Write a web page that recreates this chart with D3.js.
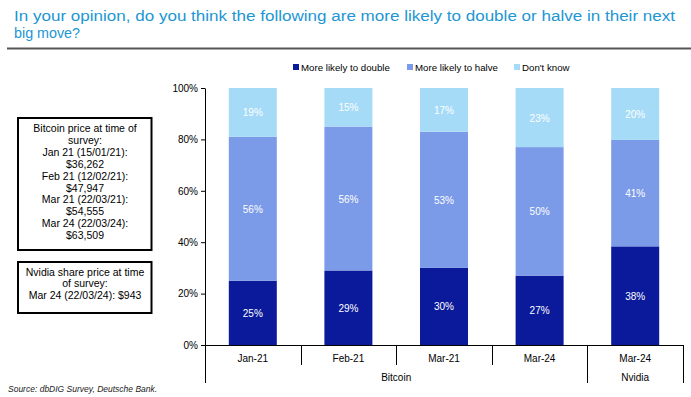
<!DOCTYPE html>
<html><head><meta charset="utf-8">
<script src="https://cdn.jsdelivr.net/npm/d3@7"></script>
<style>
body{margin:0;background:#fff;}
svg{display:block;}
text{font-family:"Liberation Sans",Arial,sans-serif;}
</style></head>
<body><svg id="c" width="691" height="397"></svg>
<script>
const categories = ["Jan-21","Feb-21","Mar-21","Mar-24","Mar-24 "];
const groupLabels = ["Bitcoin","Bitcoin","Bitcoin","Bitcoin","Nvidia"];
const seriesNames = ["More likely to double","More likely to halve","Don't know"];
const doubleVals = [25,29,30,27,38];
const halveVals = [56,56,53,50,41];
const dontKnowVals = [19,15,17,23,20];
const yTicks = [0,0.2,0.4,0.6,0.8,1.0];
const colors = ["#0a1a9a","#7b9be8","#a5dbf7"];
const titleLines = ["In your opinion, do you think the following are more likely to double or halve in their next","big move?"];
const box1Lines = ["Bitcoin price at time of","survey:","Jan 21 (15/01/21):","$36,262","Feb 21 (12/02/21):","$47,947","Mar 21 (22/03/21):","$54,555","Mar 24 (22/03/24):","$63,509"];
const box2Lines = ["Nvidia share price at time","of survey:","Mar 24 (22/03/24): $943"];

const svg = d3.select("#c");
const font = "Lato, 'Liberation Sans', sans-serif";

// Title
const tl = svg.selectAll(".title").data(titleLines).enter().append("text")
  .attr("x", 14).attr("y", (d,i)=>21+i*17)
  .attr("fill","#2196d3").attr("font-size","15.5px")
  .text(d=>d);
tl.filter((d,i)=>i===0).attr("textLength",661).attr("lengthAdjust","spacingAndGlyphs");
tl.filter((d,i)=>i===1).attr("textLength",66).attr("lengthAdjust","spacingAndGlyphs");
svg.append("line").attr("x1",7).attr("x2",691).attr("y1",48.5).attr("y2",48.5)
  .attr("stroke","#555").attr("stroke-width",2);

// Data
const rows = categories.map((c,i)=>({cat:c, "More likely to double":doubleVals[i], "More likely to halve":halveVals[i], "Don't know":dontKnowVals[i]}));
const stack = d3.stack().keys(seriesNames).offset(d3.stackOffsetExpand);
const series = stack(rows);

const x = d3.scaleBand().domain(categories).range([205,683]).paddingInner(0).paddingOuter(0);
const y = d3.scaleLinear().domain([0,1]).range([345,88]);
const barW = 48;

const g = svg.append("g");
series.forEach((s,si)=>{
  g.selectAll(".b"+si).data(s).enter().append("rect")
    .attr("x", d=>x(d.data.cat)+x.bandwidth()/2-barW/2)
    .attr("width", barW)
    .attr("y", d=>y(d[1]))
    .attr("height", d=>y(d[0])-y(d[1]))
    .attr("fill", colors[si]);
  const raw = [doubleVals,halveVals,dontKnowVals][si];
  g.selectAll(".l"+si).data(s).enter().append("text")
    .attr("x", d=>x(d.data.cat)+x.bandwidth()/2)
    .attr("y", d=>(y(d[0])+y(d[1]))/2+4)
    .attr("text-anchor","middle").attr("fill","#fff")
    .attr("font-size","10px").attr("font-family",font)
    .text((d,i)=>raw[i]+"%");
});

// Y axis
const yAxis = d3.axisLeft(y).tickValues(yTicks).tickFormat(d3.format(".0%")).tickSize(4).tickSizeOuter(0);
const ya = svg.append("g").attr("transform","translate(205,0)").call(yAxis);
ya.select(".domain").attr("stroke","#000");
ya.selectAll(".tick line").attr("stroke","#000");
ya.selectAll("text").attr("font-size","10px").attr("font-family",font).attr("fill","#000").attr("x",-7);

// X axis baseline
svg.append("line").attr("x1",205).attr("x2",683).attr("y1",345.5).attr("y2",345.5).attr("stroke","#000");
// extend y axis down
svg.append("line").attr("x1",205.5).attr("x2",205.5).attr("y1",345).attr("y2",383).attr("stroke","#000");
// category dividers
categories.forEach((c,i)=>{
  const xe = Math.round(x(c)+x.bandwidth())+0.5;
  const long = (i===categories.length-1) || groupLabels[i]!==groupLabels[i+1];
  svg.append("line").attr("x1",xe).attr("x2",xe).attr("y1",345).attr("y2", long?383:365).attr("stroke","#000");
});
// category labels
svg.selectAll(".xl").data(categories).enter().append("text")
  .attr("x", d=>x(d)+x.bandwidth()/2).attr("y",362)
  .attr("text-anchor","middle").attr("font-size","10px").attr("font-family",font).text(d=>d.trim());
// group labels
const groups = d3.groups(categories.map((c,i)=>({c,g:groupLabels[i]})), d=>d.g);
groups.forEach(([name, items])=>{
  const x0 = x(items[0].c), x1 = x(items[items.length-1].c)+x.bandwidth();
  svg.append("text").attr("x",(x0+x1)/2).attr("y",381).attr("text-anchor","middle")
    .attr("font-size","10px").attr("font-family",font).text(name);
});

// Legend
const legX = [293,407,514];
seriesNames.forEach((n,i)=>{
  svg.append("rect").attr("x",legX[i]).attr("y",64).attr("width",6).attr("height",6).attr("fill",colors[i]);
  svg.append("text").attr("x",legX[i]+8).attr("y",71).attr("font-size","9.7px").attr("font-family",font).text(n);
});

// Text boxes
function box(y0,y1,lines,startY,lh){
  svg.append("rect").attr("x",18).attr("y",y0).attr("width",133.5).attr("height",y1-y0)
    .attr("fill","none").attr("stroke","#000").attr("stroke-width",2);
  svg.selectAll(null).data(lines).enter().append("text")
    .attr("x",85).attr("y",(d,i)=>startY+i*lh)
    .attr("text-anchor","middle").attr("font-size","10.5px").attr("font-family",font).text(d=>d);
}
box(118,250,box1Lines,132,11.9);
box(262,313,box2Lines,276,11.3);

// Source
svg.append("text").attr("x",8).attr("y",392).attr("font-size","8.5px").attr("font-style","italic")
  .attr("fill","#222").text("Source: dbDIG Survey, Deutsche Bank.");
</script></body></html>
